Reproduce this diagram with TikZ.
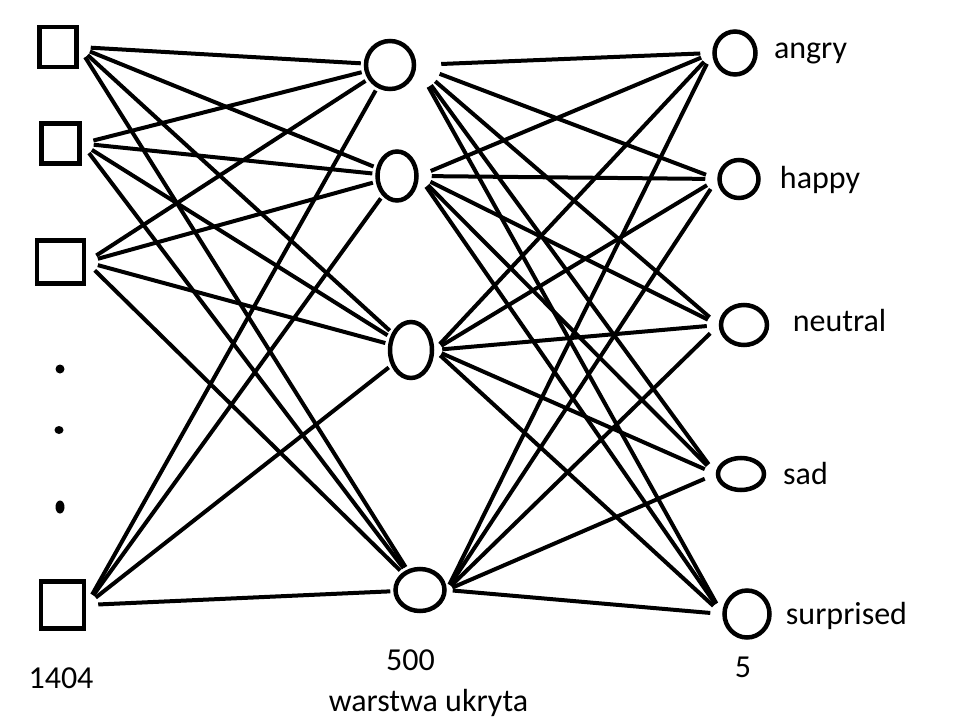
\documentclass[tikz,border=0pt]{standalone}
\usepackage{fontspec}
\setmainfont{Carlito}
\usetikzlibrary{shapes.geometric}

\begin{document}
\begin{tikzpicture}[x=1pt,y=-1pt,
    inbox/.style={draw,line width=4.5pt,inner sep=0pt},
    neuron/.style={draw,ellipse,line width=4.5pt,inner sep=0pt},
    link/.style={line width=4pt},
    lbl/.style={anchor=base,font=\fontsize{32}{38}\selectfont}]
    \useasboundingbox (0,0) rectangle (962,728);

    % Input layer
    \node[inbox,minimum width=37pt,minimum height=40pt] (i1) at (58,47) {};
    \node[inbox,minimum width=38pt,minimum height=40pt] (i2) at (60.5,143.5) {};
    \node[inbox,minimum width=47pt,minimum height=43pt] (i3) at (60.5,262) {};
    \node[inbox,minimum width=43pt,minimum height=47pt] (i4) at (62.5,605) {};

    % Dots
    \fill (60,369) ellipse (4.5pt and 4.5pt);
    \fill (59,430) ellipse (4.5pt and 4pt);
    \fill (60,507) ellipse (4.5pt and 6.5pt);

    % Hidden layer
    \node[neuron,minimum width=48pt,minimum height=48pt] (h1) at (390,65) {};
    \node[neuron,minimum width=39pt,minimum height=49pt] (h2) at (397,176) {};
    \node[neuron,minimum width=42pt,minimum height=56pt] (h3) at (411,350) {};
    \node[neuron,minimum width=49pt,minimum height=42pt] (h4) at (420,590) {};

    % Output layer
    \node[neuron,minimum width=41pt,minimum height=43pt] (o1) at (735,53) {};
    \node[neuron,minimum width=39pt,minimum height=38pt] (o2) at (739,179) {};
    \node[neuron,minimum width=46pt,minimum height=40pt] (o3) at (744,325) {};
    \node[neuron,minimum width=46pt,minimum height=32pt] (o4) at (741,474) {};
    \node[neuron,minimum width=45pt,minimum height=47pt] (o5) at (747,614) {};

    % Input -> hidden
    \foreach \i in {1,...,4}
        \foreach \j in {1,...,4}
            \draw[link,shorten <=12pt,shorten >=3pt] (i\i.east) -- (h\j);

    % Hidden -> output
    \foreach \j/\s in {1/25pt,2/13pt,3/8pt,4/6pt}
        \foreach \k in {1,...,5}
            \draw[link,shorten <=\s,shorten >=12pt] (h\j.east) -- (o\k.west);

    % Labels
    \node[lbl] (angry) at (810.5,58) {angry};
    \node[lbl] (happy) at (820,188) {happy};
    \node[lbl] (neutral) at (839.5,331) {neutral};
    \node[lbl] (sad) at (805.5,484) {sad};
    \node[lbl] (surprised) at (846.5,624) {surprised};
    \node[lbl] (nin) at (61,688) {1404};
    \node[lbl] (nhid) at (410.5,670) {500};
    \node[lbl] (hidname) at (428.5,711) {warstwa ukryta};
    \node[lbl] (nout) at (743,677) {5};
\end{tikzpicture}
\end{document}
